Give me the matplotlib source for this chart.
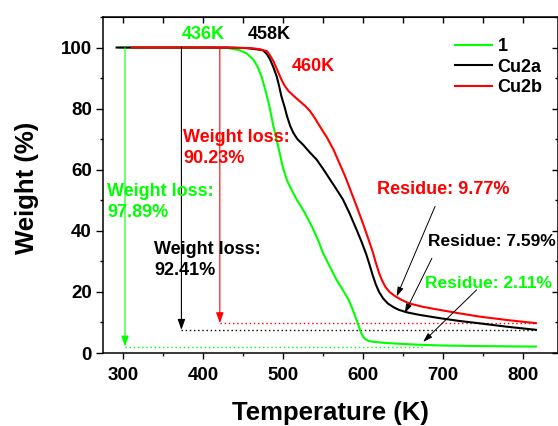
import matplotlib
matplotlib.use("Agg")
from matplotlib import pyplot as plt
from matplotlib.ticker import MultipleLocator

# TGA curves, temperature (K) vs weight (%)
temp_1 = [296, 400, 430, 446, 455, 463, 468, 473, 478, 482, 488, 494, 500, 505,
          509, 513, 518, 525, 532, 538, 544, 550, 558, 567, 575, 582, 586, 590,
          594, 597, 600, 603, 607, 612, 625, 640, 670, 700, 750, 816]
weight_1 = [100, 100, 99.9, 99.1, 98.0, 96.0, 93.8, 90.6, 86.0, 81.9, 74.2, 67.6,
            60.5, 56.5, 54.3, 52.2, 49.8, 46.9, 43.5, 40.3, 36.8, 32.7, 28.5,
            23.9, 20.5, 17.4, 14.9, 12.2, 9.2, 7.0, 5.4, 4.5, 4.0, 3.7, 3.35,
            3.1, 2.7, 2.45, 2.25, 2.11]

temp_cu2a = [292, 430, 455, 465, 475, 480, 484, 488, 492, 495, 498, 502, 505, 509,
             513, 518, 525, 533, 542, 550, 559, 567, 575, 583, 592, 598, 604, 608,
             612, 616, 620, 625, 631, 638, 645, 655, 670, 696, 720, 746, 780, 816]
weight_cu2a = [100, 100, 99.8, 99.5, 99.1, 97.8, 96.0, 93.5, 90.6, 87.5, 84.0,
               80.5, 77.5, 74.3, 72.0, 70.0, 68.2, 65.8, 63.3, 60.3, 56.7, 53.5,
               50.2, 45.8, 40.3, 36.5, 32.3, 29.0, 25.5, 22.4, 20.0, 17.9, 16.2,
               15.0, 14.1, 13.3, 12.5, 11.4, 10.5, 9.7, 8.6, 7.59]

temp_cu2b = [311, 430, 460, 470, 480, 484, 488, 493, 498, 502, 507, 514, 521, 528,
             534, 540, 546, 555, 563, 571, 578, 585, 592, 600, 606, 612, 616, 620,
             624, 628, 633, 640, 648, 658, 675, 696, 720, 746, 780, 816]
weight_cu2b = [100, 100, 99.8, 99.5, 98.8, 97.3, 95.5, 92.5, 89.5, 87.5, 85.7,
               84.0, 82.4, 80.8, 79.1, 76.8, 74.2, 70.5, 66.6, 61.8, 57.6, 52.8,
               48.0, 42.3, 37.8, 33.2, 29.5, 26.2, 23.6, 21.6, 20.0, 18.6, 17.4,
               16.2, 15.1, 14.1, 13.0, 11.9, 10.8, 9.77]

labels = ["1", "Cu2a", "Cu2b"]
colors = ["#00ff00", "black", "red"]
onset = ["436K", "458K", "460K"]
weight_loss = [97.89, 92.41, 90.23]
residue = [2.11, 7.59, 9.77]

# where each weight-loss arrow is dropped and how far its dotted guide runs
drop_x = [302.5, 373, 421]
guide_end = [675, 816, 816]

plt.rcParams['font.family'] = ['Liberation Sans', 'DejaVu Sans']
plt.rcParams['font.weight'] = 'bold'

fig = plt.figure(figsize=(5.58, 4.26), dpi=100)
ax = fig.add_axes([103 / 558, 73 / 426, 454.5 / 558, 336 / 426])

curves = [(temp_1, weight_1), (temp_cu2a, weight_cu2a), (temp_cu2b, weight_cu2b)]
for (t, w), lab, c in zip(curves, labels, colors):
    ax.plot(t, w, color=c, lw=1.5, label=lab, zorder=3)

ax.set_xlim(275, 843)
ax.set_ylim(0, 110)
ax.set_xticks([300, 400, 500, 600, 700, 800])
ax.set_yticks([0, 20, 40, 60, 80, 100])
ax.xaxis.set_minor_locator(MultipleLocator(50))
ax.yaxis.set_minor_locator(MultipleLocator(10))
ax.tick_params(axis='x', which='major', direction='out', length=4, width=1,
               pad=6, labelsize=13.5)
ax.tick_params(axis='x', which='minor', direction='out', length=2.5, width=1)
ax.tick_params(axis='y', which='major', direction='out', length=5, width=1,
               pad=3, labelsize=13.5)
ax.tick_params(axis='y', which='minor', direction='out', length=2.5, width=1)
for s in ax.spines.values():
    s.set_linewidth(1.1)

# inward ticks on top and right
top = ax.secondary_xaxis('top')
top.set_xticks([300, 400, 500, 600, 700, 800])
top.xaxis.set_minor_locator(MultipleLocator(50))
top.tick_params(which='both', direction='in', length=4.5, width=1, labeltop=False)
right = ax.secondary_yaxis('right')
right.set_yticks([0, 20, 40, 60, 80, 100])
right.yaxis.set_minor_locator(MultipleLocator(10))
right.tick_params(which='major', direction='in', length=4, width=1, labelright=False)
right.tick_params(which='minor', direction='in', length=2, width=1, labelright=False)

# weight-loss drops and residue guides
for x, loss, r, xe, c in zip(drop_x, weight_loss, residue, guide_end, colors):
    ax.annotate('', xy=(x, 100 - loss), xytext=(x, 100),
                arrowprops=dict(arrowstyle='-|>,head_length=0.7,head_width=0.25',
                                color=c, lw=0.8, mutation_scale=9,
                                shrinkA=0, shrinkB=0))
    ax.plot([x, xe], [r, r], color=c, lw=1.0, ls=(0, (1, 2)))

# onset temperatures
ax.text(373, 104.3, onset[0], color=colors[0], fontsize=13, va='center')
ax.text(456, 104.3, onset[1], color=colors[1], fontsize=13, va='center')
ax.text(511, 93.8, onset[2], color=colors[2], fontsize=13, va='center')

# weight-loss labels
loss_pos = [(280, 49.3), (339, 30.5), (375, 67.2)]
for (x, y), loss, c in zip(loss_pos, weight_loss, colors):
    ax.text(x, y, "Weight loss:\n%.2f%%" % loss, color=c, fontsize=13,
            va='center', ha='left', linespacing=1.3)

# residue labels with pointers to the curves
res_text = [(677.5, 22.8), (681, 36.5), (617, 53.4)]
res_size = [12.5, 12.5, 13]
res_from = [(742, 20.7), (686, 31.0), (690, 48.0)]
res_to = [(675, 3.6), (652, 13.0), (642, 18.5)]
for (tx, ty), fs, p0, p1, r, c in zip(res_text, res_size, res_from, res_to,
                                      residue, colors):
    ax.text(tx, ty, "Residue: %.2f%%" % r, color=c, fontsize=fs, va='center',
            clip_on=False)
    ax.annotate('', xy=p1, xytext=p0,
                arrowprops=dict(arrowstyle='-|>,head_length=0.7,head_width=0.22',
                                color='black', lw=0.7, mutation_scale=8,
                                shrinkA=0, shrinkB=0))

ax.legend(loc='upper left', bbox_to_anchor=(455 / 558, 1 - 38 / 426),
          bbox_transform=fig.transFigure, frameon=False, fontsize=13,
          borderpad=0, borderaxespad=0, handlelength=2.05, handletextpad=0.3,
          labelspacing=0.2)

fig.text(330 / 558, 1 - 413 / 426, "Temperature (K)", fontsize=18.5,
         ha='center', va='center')
fig.text(27 / 558, 1 - 188 / 426, "Weight (%)", fontsize=18.5, rotation=90,
         ha='center', va='center')

fig.savefig("out.png", dpi=100)
